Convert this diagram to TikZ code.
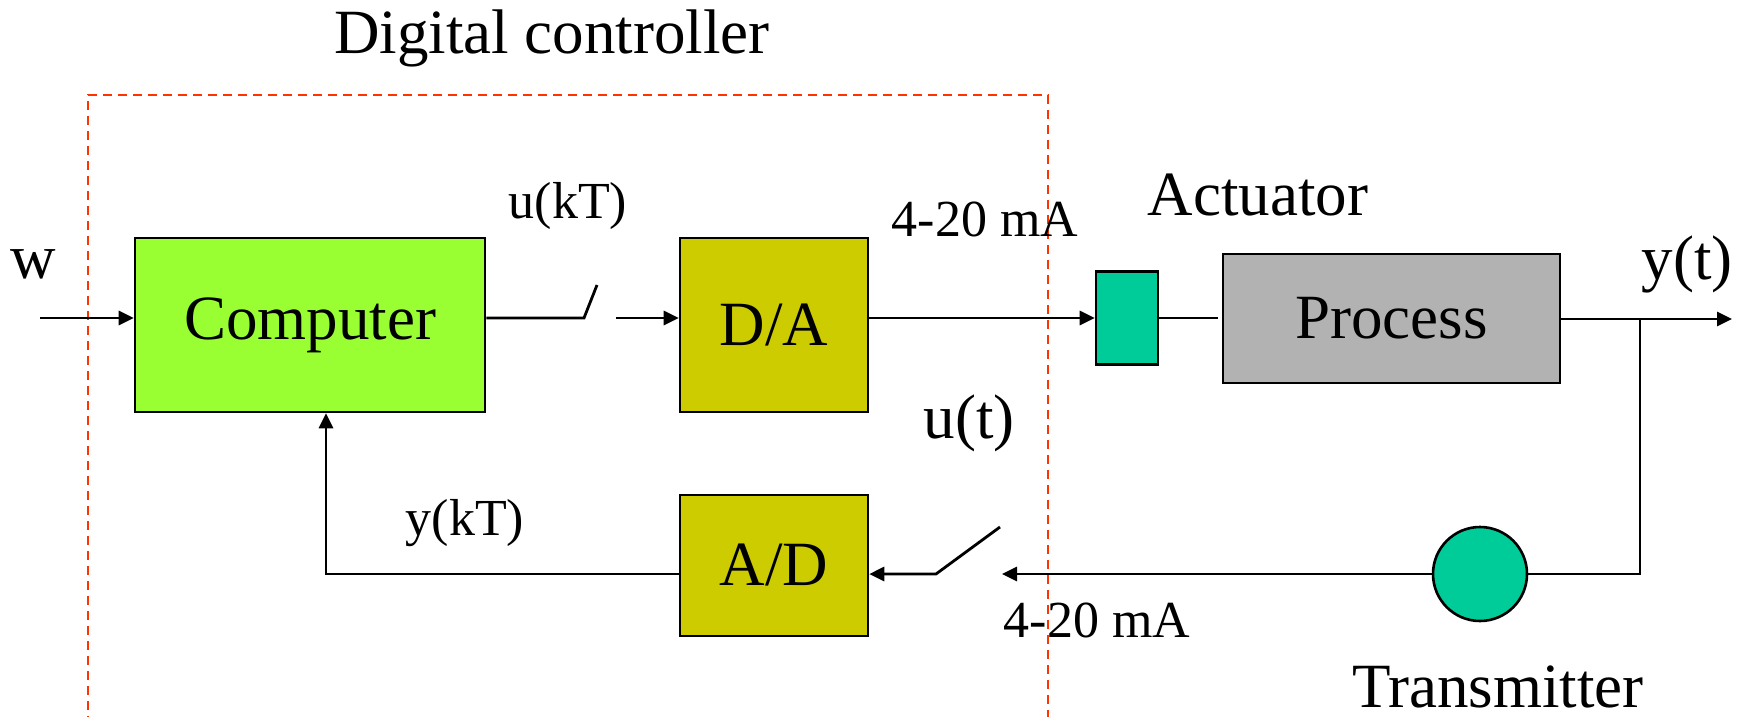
\documentclass[tikz,border=0pt]{standalone}
\usepackage{fontspec}
\setmainfont{Liberation Serif}
\usetikzlibrary{arrows.meta}
\definecolor{compgreen}{HTML}{99FF33}
\definecolor{convyellow}{HTML}{CCCC00}
\definecolor{devteal}{HTML}{00CC99}
\definecolor{procgray}{HTML}{B2B2B2}
\definecolor{dashred}{HTML}{FF3300}
\begin{document}
\begin{tikzpicture}[x=1pt,y=-1pt,
  blk/.style={draw=black, line width=2.6pt, inner sep=0pt, font=\fontsize{63}{63}\selectfont},
  big/.style={font=\fontsize{63}{63}\selectfont, inner sep=0pt},
  lbl/.style={font=\fontsize{52}{52}\selectfont, inner sep=0pt},
  wire/.style={line width=2.8pt},
  arr/.style={wire, -{Triangle[length=15pt,width=14pt]}}]
\useasboundingbox (0,0) rectangle (1746,717);
\clip (0,0) rectangle (1746,717);
\fill[white] (0,0) rectangle (1746,717);
% controller frame
\draw[dashred, line width=2.8pt, dash pattern=on 9pt off 6pt] (88,740) -- (88,95) -- (1048,95) -- (1048,740);
% blocks
\node[blk, fill=compgreen, minimum width=350pt, minimum height=174pt] (comp) at (310,325) {Computer};
\node[blk, fill=convyellow, minimum width=188pt, minimum height=174pt] (da) at (774,325) {D/A};
\node[blk, fill=convyellow, minimum width=188pt, minimum height=141pt] (ad) at (774,565.5) {A/D};
\node[blk, fill=devteal, minimum width=62pt, minimum height=93pt] (act) at (1127,318) {};
\node[blk, fill=procgray, minimum width=337pt, minimum height=129pt] (proc) at (1391.5,318.5) {Process};
\node[blk, circle, fill=devteal, minimum size=94pt] (tr) at (1480,574) {};
% coordinates
\coordinate (win) at (40,318);
\coordinate (s1a) at (584,318);
\coordinate (s1b) at (597,285);
\coordinate (s1c) at (616,318);
\coordinate (pgap) at (1218,318);
\coordinate (br) at (1640,319);
\coordinate (yout) at (1732,319);
\coordinate (brd) at (1640,574);
\coordinate (s2in) at (1002,574);
\coordinate (s2a) at (936,574);
\coordinate (s2b) at (1000,527);
\coordinate (fbk) at (326,574);
% connectors
\draw[arr] (win) -- (comp.west |- win);
\draw[wire] (comp.east |- s1a) -- (s1a) -- (s1b);
\draw[arr] (s1c) -- (da.west |- s1c);
\draw[arr] (da.east |- act.west) -- (act.west);
\draw[wire] (act.east) -- (pgap);
\draw[arr] (proc.east |- yout) -- (yout);
\draw[wire] (br) -- (brd) -- (tr.east);
\draw[arr] (tr.west) -- (s2in);
\draw[arr] (s2b) -- (s2a) -- (ad.east |- s2a);
\draw[arr] (ad.west |- fbk) -- (fbk) -- (comp.south -| fbk);
% labels
\node[big, anchor=base] (title) at (552,54) {Digital controller};
\node[big] (wl) at (33,264) {w};
\node[lbl] (ukt) at (568,206) {u(kT)};
\node[lbl] (ma1) at (985,219) {4-20 mA};
\node[big] (actl) at (1258,195) {Actuator};
\node[big] (ytl) at (1687,264) {y(t)};
\node[big] (utl) at (969,423) {u(t)};
\node[lbl] (ykt) at (465,523) {y(kT)};
\node[lbl] (ma2) at (1097,620) {4-20 mA};
\node[big, anchor=base] (trl) at (1498,707) {Transmitter};
\end{tikzpicture}
\end{document}
